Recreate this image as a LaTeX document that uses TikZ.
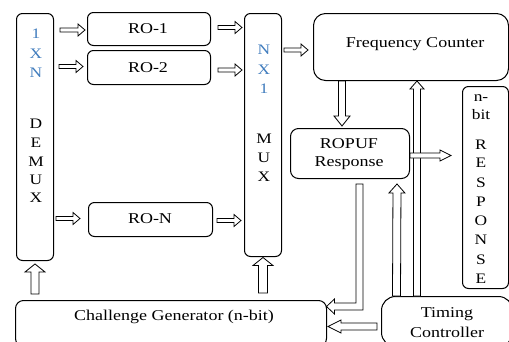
\documentclass[tikz,border=0pt]{standalone}
\usepackage{fontspec}
\setmainfont{Liberation Serif}[FakeStretch=1.2]
\usetikzlibrary{calc}
\definecolor{ltblue}{RGB}{65,125,190}
\tikzset{
  box/.style={draw, line width=1pt, rounded corners=6pt, anchor=north west, inner sep=0pt},
  lbl/.style={font=\fontsize{15}{18}\selectfont, inner sep=0pt, align=center},
  vl/.style={font=\fontsize{14.5}{16}\selectfont, inner sep=0pt},
  arr/.style={draw, line width=0.8pt, fill=white, line join=miter},
  blk/.style n args={3}{arr, to path={
    ($(\tikztostart)!#1!90:(\tikztotarget)$)
    -- ($($(\tikztotarget)!#3!(\tikztostart)$)!#1!90:(\tikztotarget)$)
    -- ($($(\tikztotarget)!#3!(\tikztostart)$)!#2!90:(\tikztotarget)$)
    -- (\tikztotarget)
    -- ($($(\tikztotarget)!#3!(\tikztostart)$)!#2!-90:(\tikztotarget)$)
    -- ($($(\tikztotarget)!#3!(\tikztostart)$)!#1!-90:(\tikztotarget)$)
    -- ($(\tikztostart)!#1!-90:(\tikztotarget)$) -- cycle}},
}
\begin{document}
\begin{tikzpicture}[x=1pt, y=-1pt]
\useasboundingbox (0,0) rectangle (509,341);
\fill[white] (0,0) rectangle (509,341);
\clip (0,0) rectangle (509,341);

% boxes
\node[box, minimum width=37pt, minimum height=247pt] (demux) at (16,13) {};
\node[box, minimum width=123pt, minimum height=33pt] (ro1) at (87,12) {};
\node[box, minimum width=123pt, minimum height=34pt] (ro2) at (87,50) {};
\node[box, minimum width=124pt, minimum height=34pt] (roN) at (88,202) {};
\node[box, minimum width=37pt, minimum height=243pt] (mux) at (244,13) {};
\node[box, rounded corners=12pt, minimum width=195pt, minimum height=67pt] (fc) at (313,13) {};
\node[box, rounded corners=8pt, minimum width=119pt, minimum height=50pt] (ropuf) at (290,128) {};
\node[box, minimum width=46pt, minimum height=202pt] (resp) at (462,86) {};
\node[box, rounded corners=8pt, minimum width=311pt, minimum height=46pt] (cg) at (15,300) {};
\node[box, rounded corners=14pt, minimum width=131pt, minimum height=50pt] (tc) at (381,296) {};

% labels
\node[lbl] (t1) at (148,29) {RO-1};
\node[lbl] (t2) at (148,68) {RO-2};
\node[lbl] (tN) at (150,219) {RO-N};
\node[lbl] (tfc) at (415,44) {Frequency Counter};
\node[lbl] (tro) at (349,154) {ROPUF\\Response};
\node[lbl] (tcg) at (174,317) {Challenge Generator (n-bit)};
\node[lbl, font=\fontsize{15}{20}\selectfont] (ttc) at (447,323) {Timing\\Controller};

% vertical letters
\foreach \t/\y [count=\i] in {1/34,X/54,N/73}
  \node[vl, text=ltblue] (db\i) at (36,\y) {\t};
\foreach \t/\y [count=\i] in {D/124,E/143,M/162,U/180,X/198}
  \node[vl] (dl\i) at (36,\y) {\t};
\foreach \t/\y [count=\i] in {N/50,X/70,1/89}
  \node[vl, text=ltblue] (mb\i) at (264,\y) {\t};
\foreach \t/\y [count=\i] in {M/139,U/158,X/177}
  \node[vl] (ml\i) at (264,\y) {\t};
\foreach \t/\y [count=\i] in {n-/98,bit/115,R/145,E/163,S/183,P/202,O/221,N/240,S/260,E/279}
  \node[vl] (rl\i) at (481,\y) {\t};

% thin horizontal arrows
\draw[blk={2pt}{6pt}{7pt}] ([xshift=6pt,yshift=-1pt]demux.east |- ro1.west) to ([xshift=-2pt,yshift=-1pt]ro1.west);
\draw[blk={2pt}{6pt}{7pt}] ([xshift=5pt,yshift=1pt]demux.east |- ro2.west) to ([xshift=-4pt,yshift=1pt]ro2.west);
\draw[blk={2pt}{6pt}{7pt}] ([xshift=2pt,yshift=1pt]demux.east |- roN.west) to ([xshift=-8pt,yshift=1pt]roN.west);
\draw[blk={2pt}{6pt}{7pt}] ([xshift=7pt,yshift=1.5pt]ro1.east) to ([xshift=-2pt,yshift=1.5pt]mux.west |- ro1.east);
\draw[blk={2pt}{6pt}{7pt}] ([xshift=7pt,yshift=-2.5pt]ro2.east) to ([xshift=-2pt,yshift=-2.5pt]mux.west |- ro2.east);
\draw[blk={2pt}{6pt}{7pt}] ([xshift=4pt,yshift=-1pt]roN.east) to ([xshift=-3pt,yshift=-1pt]mux.west |- roN.east);
\draw[blk={2pt}{6pt}{7pt}] ([xshift=2pt]mux.east |- 0,50) to ([xshift=-5pt]fc.west |- 0,50);

% vertical arrows
\draw[blk={4pt}{10pt}{8pt}] ([yshift=6pt]cg.north -| demux.south) to ([yshift=-3pt]demux.south);
\draw[blk={4.5pt}{10pt}{8pt}] ([yshift=7pt]cg.north -| mux.south) to ([yshift=-0.5pt]mux.south);
\draw[blk={3.5pt}{8pt}{10pt}] ([xshift=-8pt]fc.south -| ropuf.north) to ([xshift=-8pt,yshift=2pt]ropuf.north);
\draw[blk={4pt}{8pt}{9pt}] ([xshift=15.5pt]tc.north west) to ([xshift=47pt,yshift=-5pt]ropuf.south);
\draw[blk={3.5pt}{7pt}{8pt}] ([xshift=36pt]tc.north west) to ([xshift=36pt]tc.north west |- fc.south);

% horizontal arrows
\draw[blk={2.5pt}{5.5pt}{11pt}] ([yshift=-2pt]ropuf.east) to ([xshift=-11pt,yshift=-2pt]resp.west |- ropuf.east);
\draw[blk={3.5pt}{6.5pt}{13pt}] ([xshift=-4pt]tc.west |- 0,326.5) to ([xshift=1pt]cg.east |- 0,326.5);

% L-shaped arrow ROPUF -> Challenge Generator
\coordinate (lb) at (359.5,306.5);
\coordinate (lt) at ([xshift=-0.5pt]cg.east |- lb);
\draw[arr] ($(ropuf.south -| lb)+(-3.5,5)$) -- ($(ropuf.south -| lb)+(3.5,5)$)
  -- ($(lb)+(3.5,3.5)$) -- ($(lt)+(8,3.5)$) -- ($(lt)+(8,7.5)$) -- (lt)
  -- ($(lt)+(8,-7.5)$) -- ($(lt)+(8,-3.5)$) -- ($(lb)+(-3.5,-3.5)$) -- cycle;
\end{tikzpicture}
\end{document}
